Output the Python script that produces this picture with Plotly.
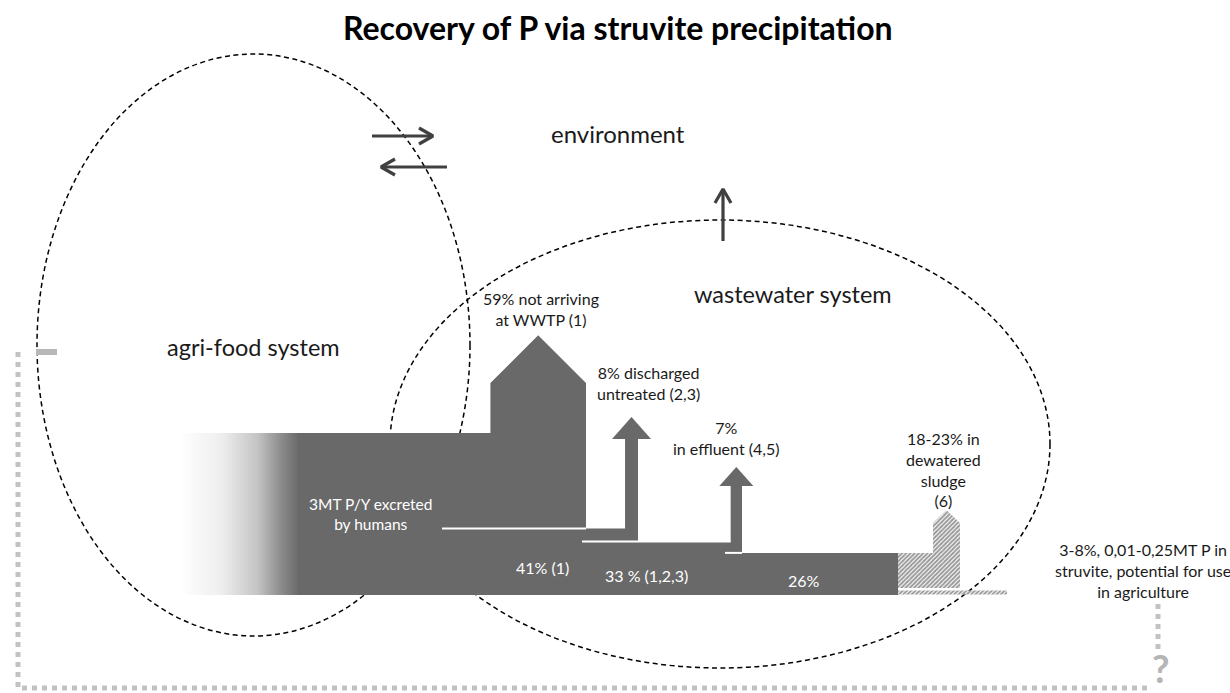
import plotly.graph_objects as go

# ---------------- data ----------------
TITLE = "Recovery of P via struvite precipitation"
system_names = ["environment", "wastewater system", "agri-food system"]

flow_names = ["excreted", "not arriving at WWTP", "arriving at WWTP",
              "discharged untreated", "after untreated discharge", "in effluent", "remaining"]
flow_pct = [100, 59, 41, 8, 33, 7, 26]
sludge_pct_range = [18, 23]
struvite_pct_range = [3, 8]
struvite_mt_range = ["0,01", "0,25"]
excreted_mt = 3

flow_texts = [
    f"{excreted_mt}MT P/Y excreted<br>by humans",
    f"{flow_pct[1]}% not arriving<br>at WWTP (1)",
    f"{flow_pct[2]}% (1)",
    f"{flow_pct[3]}% discharged<br>untreated (2,3)",
    f"{flow_pct[4]} % (1,2,3)",
    f"{flow_pct[5]}%<br>in effluent (4,5)",
    f"{flow_pct[6]}%",
]
sludge_text = f"{sludge_pct_range[0]}-{sludge_pct_range[1]}% in<br>dewatered<br>sludge<br>(6)"
struvite_text = (f"{struvite_pct_range[0]}-{struvite_pct_range[1]}%, "
                 f"{struvite_mt_range[0]}-{struvite_mt_range[1]}MT P in<br>"
                 "struvite, potential for use<br>in agriculture")

# ---------------- layout constants ----------------
W, H = 1230, 693
FONT = "Lato"
GRAY = "#696969"
BASE_Y = 595          # bottom of the flow band (px)
PX_PER_PCT = 1.62     # band thickness per percent
X_GRAD = 180
X_START = 298
X59R = 586
Y59_TOP = 383
X8R = 638
Y8_HEAD, Y8_APEX, HEAD8_HALF = 439, 417, 19.5
X7R = 742
Y7_HEAD, Y7_APEX, HEAD7_HALF = 486, 467, 17
X_SLUDGE = 898
SL_SHAFT_L, SL_SHAFT_R, SL_TOP, SL_APEX, SL_BOTTOM = 933, 960, 523, 510, 588
STRIP_Y0, STRIP_Y1, STRIP_X1 = 590.5, 594.5, 1007


def lvl(p):
    return BASE_Y - p * PX_PER_PCT


x59L = X59R - flow_pct[1] * PX_PER_PCT
x8L = X8R - flow_pct[3] * PX_PER_PCT
x8c = (x8L + X8R) / 2
x7L = X7R - flow_pct[5] * PX_PER_PCT
x7c = (x7L + X7R) / 2

gray_pts = [
    (X_START, BASE_Y), (X_START, lvl(flow_pct[0])), (x59L, lvl(flow_pct[0])),
    (x59L, Y59_TOP), ((x59L + X59R) / 2, Y59_TOP - (X59R - x59L) / 2), (X59R, Y59_TOP),
    (X59R, lvl(flow_pct[2])), (x8L, lvl(flow_pct[2])), (x8L, Y8_HEAD),
    (x8c - HEAD8_HALF, Y8_HEAD), (x8c, Y8_APEX), (x8c + HEAD8_HALF, Y8_HEAD),
    (X8R, Y8_HEAD), (X8R, lvl(flow_pct[4])), (x7L, lvl(flow_pct[4])), (x7L, Y7_HEAD),
    (x7c - HEAD7_HALF, Y7_HEAD), (x7c, Y7_APEX), (x7c + HEAD7_HALF, Y7_HEAD),
    (X7R, Y7_HEAD), (X7R, lvl(flow_pct[6])), (X_SLUDGE, lvl(flow_pct[6])),
    (X_SLUDGE, BASE_Y), (X_START, BASE_Y),
]

sludge_pts = [
    (X_SLUDGE, lvl(flow_pct[6])), (SL_SHAFT_L, lvl(flow_pct[6])), (SL_SHAFT_L, SL_TOP),
    ((SL_SHAFT_L + SL_SHAFT_R) / 2, SL_APEX), (SL_SHAFT_R, SL_TOP), (SL_SHAFT_R, SL_BOTTOM),
    (X_SLUDGE, SL_BOTTOM), (X_SLUDGE, lvl(flow_pct[6])),
]
strip_pts = [(X_SLUDGE, STRIP_Y0), (STRIP_X1, STRIP_Y0), (STRIP_X1, STRIP_Y1),
             (X_SLUDGE, STRIP_Y1), (X_SLUDGE, STRIP_Y0)]

fig = go.Figure()


def poly(pts, **kw):
    fig.add_trace(go.Scatter(x=[p[0] for p in pts], y=[p[1] for p in pts], mode="lines",
                             fill="toself", hoverinfo="skip", **kw))


def line(pts, color, width, dash=None):
    fig.add_trace(go.Scatter(x=[p[0] for p in pts], y=[p[1] for p in pts], mode="lines",
                             line=dict(color=color, width=width, dash=dash),
                             hoverinfo="skip"))


# gradient entry
poly([(X_GRAD, BASE_Y), (X_GRAD, lvl(100)), (X_START + 1, lvl(100)), (X_START + 1, BASE_Y),
      (X_GRAD, BASE_Y)],
     line=dict(width=0),
     fillgradient=dict(type="horizontal",
                       colorscale=[[0, "#ffffff"], [0.35, "#eeeeee"], [0.65, "#c4c4c4"],
                                   [0.85, "#8c8c8c"], [1, GRAY]]))
# grey flow
poly(gray_pts, line=dict(width=0), fillcolor=GRAY)
# hatched sludge & struvite
pat = dict(shape="/", fgcolor="#333333", bgcolor="#ffffff", size=3, solidity=0.65)
poly(sludge_pts, line=dict(width=0), fillpattern=pat)
poly(strip_pts, line=dict(width=0), fillpattern=pat)

# white separator lines
line([(442, lvl(flow_pct[2])), (X59R, lvl(flow_pct[2]))], "white", 2)
line([(582, lvl(flow_pct[4])), (x7L, lvl(flow_pct[4]))], "white", 2)
line([(725, lvl(flow_pct[6])), (X7R, lvl(flow_pct[6]))], "white", 2)

# exchange arrows (top)
AC = "#404040"
line([(372, 136), (433, 136)], AC, 3.2)
line([(419, 128), (433, 136), (419, 144)], AC, 3.2)
line([(447, 167), (381, 167)], AC, 3.2)
line([(395, 159), (381, 167), (395, 175)], AC, 3.2)
line([(723, 241), (723, 189)], AC, 3.2)
line([(715, 203), (723, 189), (731, 203)], AC, 3.2)

# grey dotted feedback line
DC = "#c2c2c2"
line([(18, 352), (18, 688), (1150, 688)], DC, 5, "5px,5px")
line([(1158, 604), (1158, 650)], DC, 5, "5px,5px")
line([(36, 352), (57, 352)], "#b8b8b8", 6)

# ellipses
shapes = [
    dict(type="circle", xref="x", yref="y", x0=37, x1=470, y0=54, y1=636, layer="below",
         line=dict(color="black", width=1.5, dash="5px,3.5px")),
    dict(type="circle", xref="x", yref="y", x0=390, x1=1050, y0=220, y1=668, layer="below",
         line=dict(color="black", width=1.5, dash="5px,3.5px")),
]

ann = []


def text(x, y, s, size, color="#1a1a1a", bold=False):
    ann.append(dict(x=x, y=y, xref="x", yref="y", text=f"<b>{s}</b>" if bold else s,
                    showarrow=False, xanchor="center", yanchor="middle", align="center",
                    font=dict(family=FONT, size=size, color=color)))


text(618, 27, TITLE, 32, "#000000", bold=True)
text(618, 133, system_names[0], 24)
text(793, 294, system_names[1], 23.5)
text(253, 347, system_names[2], 23.5)
text(370, 514, flow_texts[0], 15.5, "white")
text(541, 309, flow_texts[1], 16)
text(542, 567, flow_texts[2], 16, "white")
text(648, 383, flow_texts[3], 16)
text(646, 575, flow_texts[4], 16, "white")
text(726, 438, flow_texts[5], 16)
text(804, 580, flow_texts[6], 16, "white")
text(943, 469, sludge_text, 16)
text(1143, 570, struvite_text, 16)
text(1160, 668, "?", 38, "#b5b5b5", bold=True)

fig.update_layout(
    width=W, height=H, margin=dict(l=0, r=0, t=0, b=0),
    paper_bgcolor="white", plot_bgcolor="white", showlegend=False,
    xaxis=dict(range=[0, W], visible=False, fixedrange=True),
    yaxis=dict(range=[H, 0], visible=False, fixedrange=True),
    shapes=shapes, annotations=ann,
)
fig.write_html("out.html", config={"displayModeBar": False},
               post_script="document.body.style.margin='0';document.body.style.overflow='hidden';")
